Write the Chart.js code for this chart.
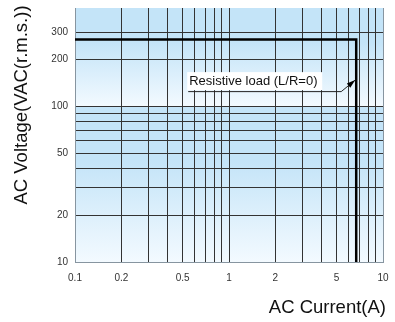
<!DOCTYPE html>
<html>
<head>
<meta charset="utf-8">
<script src="https://cdn.jsdelivr.net/npm/chart.js@4/dist/chart.umd.min.js"></script>
<style>
  html, body { margin: 0; padding: 0; background: #fff; }
  #wrap { width: 395px; height: 322px; }
</style>
</head>
<body>
<div id="wrap"><canvas id="c" width="395" height="322"></canvas></div>
<script>
// rated limit line (resistive load)
const currentA = [0.1, 6.7, 6.7];
const voltageV = [270, 270, 10];

// grid lines and labelled ticks
const xGridTicks = [0.1, 0.2, 0.3, 0.4, 0.5, 0.6, 0.7, 0.8, 0.9, 1, 2, 3, 4, 5, 6, 7, 8, 9, 10];
const xLabelTicks = [0.1, 0.2, 0.5, 1, 2, 5, 10];
const yGridTicks = [10, 20, 30, 40, 50, 60, 70, 80, 90, 100, 200, 300];
const yLabelTicks = [10, 20, 50, 100, 200, 300];

const FONT = "'Liberation Sans', Arial, sans-serif";
const BLUE = '#c4e4f8';
const PALE = '#f3faff';

// two gradient bands, split at 100 V
const bandBackground = {
  id: 'bandBackground',
  beforeDraw(chart) {
    const { ctx, chartArea: a, scales } = chart;
    const split = scales.y.getPixelForValue(100);
    const band = (top, bottom) => {
      const g = ctx.createLinearGradient(0, top, 0, bottom);
      g.addColorStop(0, BLUE);
      g.addColorStop(0.35, BLUE);
      g.addColorStop(1, PALE);
      ctx.fillStyle = g;
      ctx.fillRect(a.left, top, a.right - a.left, bottom - top);
    };
    ctx.save();
    band(a.top, split);
    band(split, a.bottom);
    ctx.restore();
  }
};

// callout label + titles
const callout = {
  id: 'callout',
  afterDatasetsDraw(chart) {
    const { ctx, scales } = chart;
    const tipX = scales.x.getPixelForValue(currentA[1]);
    const tipY = scales.y.getPixelForValue(150);
    ctx.save();
    // white label box
    ctx.fillStyle = '#fff';
    ctx.fillRect(tipX - 169, tipY - 7, 135, 18);
    ctx.fillStyle = '#111';
    ctx.font = '13px ' + FONT;
    ctx.textBaseline = 'alphabetic';
    ctx.textAlign = 'left';
    ctx.fillText('Resistive load (L/R=0)', tipX - 167, tipY + 6);
    // leader line
    ctx.strokeStyle = '#222';
    ctx.lineWidth = 1;
    ctx.beginPath();
    ctx.moveTo(tipX - 168, tipY + 12.5);
    ctx.lineTo(tipX - 15, tipY + 12.5);
    ctx.lineTo(tipX - 1, tipY + 1);
    ctx.stroke();
    // arrow head
    const ang = Math.atan2(-11.5, 14);
    ctx.fillStyle = '#000';
    ctx.beginPath();
    ctx.moveTo(tipX - 1, tipY + 1);
    ctx.lineTo(tipX - 1 - 9 * Math.cos(ang - 0.3), tipY + 1 - 9 * Math.sin(ang - 0.3));
    ctx.lineTo(tipX - 1 - 9 * Math.cos(ang + 0.3), tipY + 1 - 9 * Math.sin(ang + 0.3));
    ctx.closePath();
    ctx.fill();
    ctx.restore();
  },
  afterDraw(chart) {
    const { ctx } = chart;
    ctx.save();
    ctx.fillStyle = '#111';
    ctx.font = '18.5px ' + FONT;
    ctx.textAlign = 'right';
    ctx.textBaseline = 'alphabetic';
    ctx.fillText('AC Current(A)', 386, 313);
    ctx.translate(27, 105);
    ctx.rotate(-Math.PI / 2);
    ctx.textAlign = 'center';
    ctx.fillText('AC Voltage(VAC(r.m.s.))', 0, 0);
    ctx.restore();
  }
};

// drop the label-overhang padding chart.js adds, layout padding decides
function noOverhang(s) {
  s.paddingTop = 0;
  s.paddingBottom = 0;
  s.paddingLeft = 0;
  s.paddingRight = 0;
}

new Chart(document.getElementById('c'), {
  type: 'scatter',
  data: {
    datasets: [{
      data: currentA.map((x, i) => ({ x, y: voltageV[i] })),
      showLine: true,
      borderColor: '#000',
      borderWidth: 2.5,
      pointRadius: 0,
      fill: false
    }]
  },
  options: {
    responsive: false,
    animation: false,
    layout: { padding: { left: 0, top: 8, right: 12, bottom: 0 } },
    plugins: { legend: { display: false }, tooltip: { enabled: false } },
    scales: {
      x: {
        type: 'logarithmic',
        min: 0.1,
        max: 10,
        afterBuildTicks: (s) => { s.ticks = xGridTicks.map(v => ({ value: v })); },
        afterFit: (s) => { s.height = 60; noOverhang(s); },
        grid: {
          color: (c) => (c.tick && c.tick.value === 10) ? '#8795a0' : '#333',
          lineWidth: 1,
          drawTicks: false
        },
        border: { color: '#8795a0', width: 1 },
        ticks: {
          autoSkip: false,
          maxRotation: 0,
          padding: 10,
          color: '#333',
          font: { family: FONT, size: 10 },
          callback: (v) => xLabelTicks.includes(v) ? String(v) : ''
        }
      },
      y: {
        type: 'logarithmic',
        min: 10,
        max: 430,
        afterBuildTicks: (s) => { s.ticks = yGridTicks.map(v => ({ value: v })); },
        afterFit: (s) => { s.width = 75; noOverhang(s); },
        grid: { color: '#333', lineWidth: 1, drawTicks: false },
        border: { color: '#8795a0', width: 1 },
        ticks: {
          autoSkip: false,
          padding: 7,
          color: '#333',
          font: { family: FONT, size: 10 },
          callback: (v) => yLabelTicks.includes(v) ? String(v) : ''
        }
      }
    }
  },
  plugins: [bandBackground, callout]
});
</script>
</body>
</html>
